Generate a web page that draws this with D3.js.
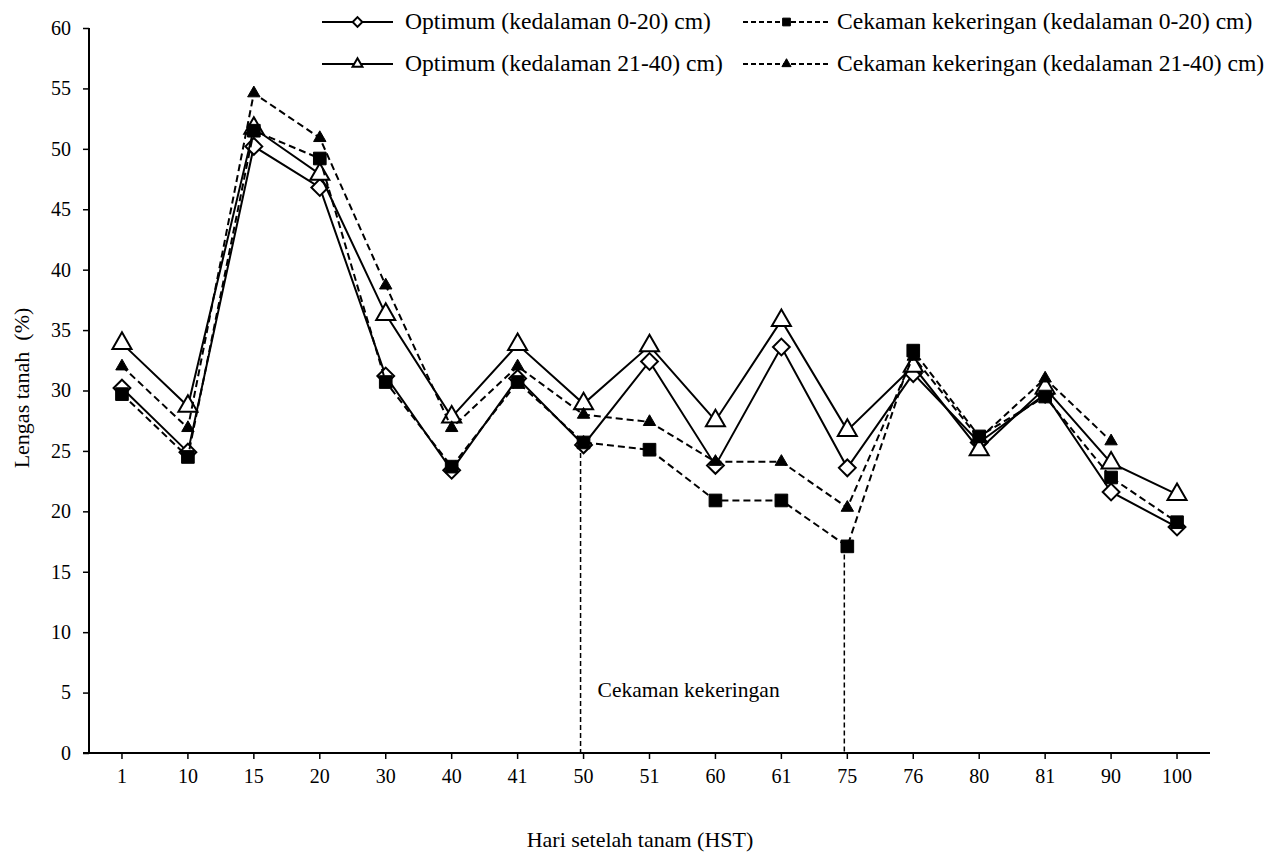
<!DOCTYPE html>
<html>
<head>
<meta charset="utf-8">
<script src="https://cdn.jsdelivr.net/npm/d3@7"></script>
<style>
  body { margin: 0; background: #fff; }
  text { font-family: "Liberation Serif", "Times New Roman", serif; fill: #000; }
</style>
</head>
<body>
<div id="chart"></div>
<script>
// categories (HST)
var days = ["1", "10", "15", "20", "30", "40", "41", "50", "51", "60", "61", "75", "76", "80", "81", "90", "100"];

// series values (Lengas tanah %)
var optimum020 = [30.2, 24.9, 50.2, 46.8, 31.2, 23.4, 31.0, 25.5, 32.4, 23.8, 33.6, 23.6, 31.4, 25.7, 29.7, 21.6, 18.7];
var cekaman020 = [29.7, 24.5, 51.5, 49.2, 30.7, 23.7, 30.7, 25.7, 25.1, 20.9, 20.9, 17.1, 33.3, 26.2, 29.5, 22.8, 19.1];
var optimum2140 = [33.9, 28.7, 51.7, 47.9, 36.3, 27.8, 33.8, 28.9, 33.7, 27.5, 35.8, 26.7, 32.0, 25.1, 30.2, 24.0, 21.4];
var cekaman2140 = [32.0, 26.9, 54.6, 50.9, 38.7, 26.9, 32.0, 28.0, 27.4, 24.1, 24.1, 20.3, 32.8, 26.0, 31.0, 25.8, null];

var yTicks = [0, 5, 10, 15, 20, 25, 30, 35, 40, 45, 50, 55, 60];
var stressDays = ["50", "75"];
var stressLabel = "Cekaman kekeringan";

var seriesNames = [
  "Optimum (kedalaman 0-20) cm)",
  "Cekaman kekeringan (kedalaman 0-20) cm)",
  "Optimum (kedalaman 21-40) cm)",
  "Cekaman kekeringan (kedalaman 21-40) cm)"
];

// legend order
var series = [
  {name: seriesNames[0], values: optimum020, marker: "diamond", dashed: false},
  {name: seriesNames[1], values: cekaman020, marker: "square", dashed: true},
  {name: seriesNames[2], values: optimum2140, marker: "triangleOpen", dashed: false},
  {name: seriesNames[3], values: cekaman2140, marker: "triangle", dashed: true}
];
// drawing order (squares end up on top, like the original)
var drawOrder = [0, 2, 3, 1];

var W = 1272, H = 854;
var margin = {top: 28, right: 62, bottom: 101, left: 89};
var w = W - margin.left - margin.right;
var h = H - margin.top - margin.bottom;

var svg = d3.select("#chart").append("svg")
  .attr("width", W).attr("height", H);

var g = svg.append("g")
  .attr("transform", "translate(" + margin.left + "," + margin.top + ")");

// scales
var x = d3.scaleBand().domain(days).range([0, w]);
var y = d3.scaleLinear().domain([0, 60]).range([h, 0]);
var cx = function(d) { return x(d) + x.bandwidth() / 2; };

// markers
var symbols = {
  diamond: {type: d3.symbolDiamond2, size: 180, fill: "#fff"},
  square: {type: d3.symbolSquare, size: 160, fill: "#000"},
  triangleOpen: {type: d3.symbolTriangle2, size: 260, fill: "#fff"},
  triangle: {type: d3.symbolTriangle2, size: 110, fill: "#000"}
};
var legendSymbols = {
  diamond: 60, square: 60, triangleOpen: 70, triangle: 60
};

// y axis
var yAxis = d3.axisLeft(y).tickValues(yTicks).tickSize(6).tickPadding(12);
var ya = g.append("g").call(yAxis);
ya.select(".domain").attr("stroke", "#000").attr("stroke-width", 2).attr("d", "M0," + h + "V0");
ya.selectAll(".tick line").attr("stroke-width", 1.5);
ya.selectAll("text").style("font-size", "20px").style("font-family", "Liberation Serif");

// x axis
var xAxis = d3.axisBottom(x).tickSize(6).tickPadding(10);
var xa = g.append("g").attr("transform", "translate(0," + h + ")").call(xAxis);
xa.select(".domain").attr("stroke", "#000").attr("stroke-width", 2).attr("d", "M-6,0H" + w);
xa.selectAll(".tick line").attr("stroke-width", 1.5);
xa.selectAll("text").style("font-size", "20px").style("font-family", "Liberation Serif");

// drought period lines
stressDays.forEach(function(day) {
  var i = days.indexOf(day);
  var top = d3.min(series, function(s) { return s.values[i]; });
  g.append("line")
    .attr("x1", cx(day) - 3).attr("x2", cx(day) - 3)
    .attr("y1", y(top)).attr("y2", y(0))
    .attr("stroke", "#000").attr("stroke-width", 1.5)
    .attr("stroke-dasharray", "5,3");
});

g.append("text")
  .attr("x", cx(stressDays[0]) + 14)
  .attr("y", y(5) + 4)
  .style("font-size", "21.5px")
  .text(stressLabel);

// lines + markers
var line = d3.line()
  .defined(function(d) { return d.v != null; })
  .x(function(d) { return cx(d.day); })
  .y(function(d) { return y(d.v); });

drawOrder.forEach(function(k) {
  var s = series[k];
  var pts = days.map(function(d, i) { return {day: d, v: s.values[i]}; });
  g.append("path")
    .datum(pts)
    .attr("fill", "none")
    .attr("stroke", "#000")
    .attr("stroke-width", 2)
    .attr("stroke-dasharray", s.dashed ? "7,4" : null)
    .attr("d", line);

  var sym = symbols[s.marker];
  g.selectAll(null)
    .data(pts.filter(function(p) { return p.v != null; }))
    .enter().append("path")
    .attr("transform", function(p) { return "translate(" + cx(p.day) + "," + y(p.v) + ")"; })
    .attr("d", d3.symbol().type(sym.type).size(sym.size))
    .attr("fill", sym.fill)
    .attr("stroke", "#000")
    .attr("stroke-width", sym.fill === "#fff" ? 2 : 1);
});

// axis titles
svg.append("text")
  .attr("transform", "translate(29," + 388 + ") rotate(-90)")
  .attr("text-anchor", "middle")
  .style("font-size", "22px")
  .style("white-space", "pre")
  .text("Lengas tanah  (%)");

svg.append("text")
  .attr("x", 640).attr("y", 847)
  .attr("text-anchor", "middle")
  .style("font-size", "22px")
  .text("Hari setelah tanam (HST)");

// legend
var legendPos = [
  {x: 322, y: 22}, {x: 743, y: 22},
  {x: 322, y: 64}, {x: 743, y: 64}
];
series.forEach(function(s, i) {
  var p = legendPos[i];
  var lg = svg.append("g").attr("transform", "translate(" + p.x + "," + p.y + ")");
  var len = s.dashed ? 87 : 71;
  lg.append("line")
    .attr("x1", 0).attr("x2", len).attr("y1", 0).attr("y2", 0)
    .attr("stroke", "#000").attr("stroke-width", 2)
    .attr("stroke-dasharray", s.dashed ? "5,3" : null);
  var sym = symbols[s.marker];
  lg.append("path")
    .attr("transform", "translate(" + (len / 2) + ",0)")
    .attr("d", d3.symbol().type(sym.type).size(legendSymbols[s.marker]))
    .attr("fill", sym.fill)
    .attr("stroke", "#000")
    .attr("stroke-width", sym.fill === "#fff" ? 2 : 1);
  lg.append("text")
    .attr("x", len + (s.dashed ? 7 : 12))
    .attr("y", 7)
    .style("font-size", "23.6px")
    .text(s.name);
});
</script>
</body>
</html>
